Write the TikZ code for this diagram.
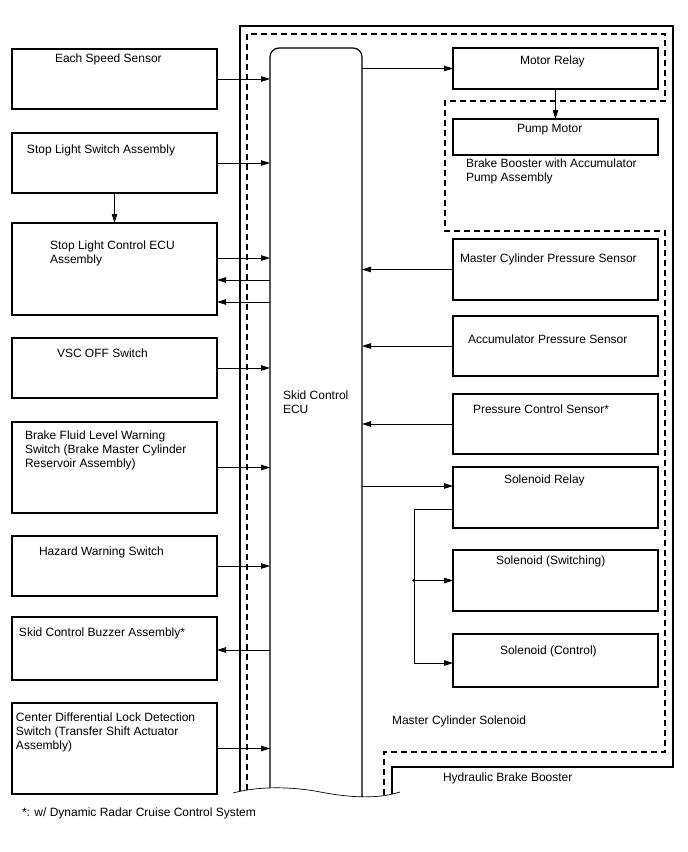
\documentclass[tikz,border=0pt]{standalone}
\usepackage{fontspec}
\setmainfont{Liberation Sans}
\usetikzlibrary{arrows.meta}
\begin{document}
\begin{tikzpicture}[x=1pt,y=-1pt,
  box/.style={draw, line width=1.2pt, anchor=north west, inner sep=0pt, outer sep=0pt, minimum width=205pt},
  lbl/.style={anchor=north west, inner sep=0pt, outer sep=0pt, font=\fontsize{12}{14}\selectfont, align=left},
  arr/.style={line width=0.8pt, -{Triangle[length=9pt,width=5.5pt]}},
  ln/.style={line width=0.8pt},
  dsh/.style={line width=1.2pt, dash pattern=on 6pt off 4pt},
  solidedge/.style={line width=1.2pt}]
\useasboundingbox (0,0) rectangle (688,852);

% ---------- outlines ----------
\draw[solidedge] (240,791) -- (240,26) -- (673,26) -- (673,767) -- (392,767) -- (392,794);
\draw[dsh] (247,790) -- (247,34) -- (665,34) -- (665,101) -- (445,101) -- (445,231) -- (665,231) -- (665,752) -- (384,752) -- (384,795.5);

% ---------- ECU ----------
\node[anchor=north west, inner sep=0pt, outer sep=0pt, minimum width=92pt, minimum height=749pt] (ecu) at (270,48) {};
\draw[solidedge, rounded corners=9pt] (270,788) -- (270,48) -- (362,48) -- (362,797);
\draw[line width=0.7pt] (233,793) .. controls (255,787) and (285,786) .. (315,791) .. controls (345,797) and (375,800) .. (400,792);
\node[lbl] (ecut) at (283,390.5) {Skid Control\\ECU};

% ---------- left boxes ----------
\node[box, minimum height=60pt] (ess) at (12,49) {};
\node[box, minimum height=60pt] (sls) at (12,133) {};
\node[box, minimum height=92pt] (slc) at (12,223) {};
\node[box, minimum height=60pt] (vsc) at (12,338) {};
\node[box, minimum height=91pt] (bfl) at (12,422) {};
\node[box, minimum height=60pt] (hws) at (12,536) {};
\node[box, minimum height=63pt] (scb) at (12,617) {};
\node[box, minimum height=91pt] (cdl) at (12,703) {};

\node[lbl] (esst) at (55,53.5) {Each Speed Sensor};
\node[lbl] (slst) at (27,144.5) {Stop Light Switch Assembly};
\node[lbl] (slct) at (50,240.5) {Stop Light Control ECU\\Assembly};
\node[lbl] (vsct) at (57,348.5) {VSC OFF Switch};
\node[lbl] (bflt) at (25,430.5) {Brake Fluid Level Warning\\Switch (Brake Master Cylinder\\Reservoir Assembly)};
\node[lbl] (hwst) at (39,546.5) {Hazard Warning Switch};
\node[lbl] (scbt) at (19,627.5) {Skid Control Buzzer Assembly*};
\node[lbl] (cdlt) at (16,712.5) {Center Differential Lock Detection\\Switch (Transfer Shift Actuator\\Assembly)};
\node[lbl] (foot) at (22,807.5) {*: w/ Dynamic Radar Cruise Control System};

% ---------- right boxes ----------
\node[box, minimum height=41pt] (mr) at (453,48) {};
\node[box, minimum height=36pt] (pm) at (453,119) {};
\node[box, minimum height=61pt] (mcps) at (453,239) {};
\node[box, minimum height=60pt] (aps) at (453,316) {};
\node[box, minimum height=60pt] (pcs) at (453,394) {};
\node[box, minimum height=61pt] (sr) at (453,467) {};
\node[box, minimum height=61pt] (ssw) at (453,550) {};
\node[box, minimum height=53pt] (sctl) at (453,634) {};

\node[lbl] (mrt) at (520,55.5) {Motor Relay};
\node[lbl] (pmt) at (517,124.5) {Pump Motor};
\node[lbl] (bbt) at (466,158.5) {Brake Booster with Accumulator\\Pump Assembly};
\node[lbl] (mcpst) at (460,253.5) {Master Cylinder Pressure Sensor};
\node[lbl] (apst) at (468,334.5) {Accumulator Pressure Sensor};
\node[lbl] (pcst) at (473,404.5) {Pressure Control Sensor*};
\node[lbl] (srt) at (504,474.5) {Solenoid Relay};
\node[lbl] (sswt) at (496,555.5) {Solenoid (Switching)};
\node[lbl] (sctlt) at (500,645.5) {Solenoid (Control)};
\node[lbl] (mcst) at (392,715.5) {Master Cylinder Solenoid};
\node[lbl] (hbbt) at (443,772.5) {Hydraulic Brake Booster};

% ---------- connectors left ----------
\draw[arr] (ess.east) -- (ess.east -| ecu.west);
\draw[arr] (sls.east) -- (sls.east -| ecu.west);
\draw[arr] (sls.south) -- (slc.north);
\draw[arr] ([yshift=11pt]slc.east) -- ([yshift=11pt]slc.east -| ecu.west);
\draw[arr] ([yshift=-11pt]slc.east -| ecu.west) -- ([yshift=-11pt]slc.east);
\draw[arr] ([yshift=-33pt]slc.east -| ecu.west) -- ([yshift=-33pt]slc.east);
\draw[arr] (vsc.east) -- (vsc.east -| ecu.west);
\draw[arr] (bfl.east) -- (bfl.east -| ecu.west);
\draw[arr] (hws.east) -- (hws.east -| ecu.west);
\draw[arr] ([yshift=-1.5pt]scb.east -| ecu.west) -- ([yshift=-1.5pt]scb.east);
\draw[arr] (cdl.east) -- (cdl.east -| ecu.west);

% ---------- connectors right ----------
\draw[arr] (mr.west -| ecu.east) -- (mr.west);
\draw[arr] (mr.south) -- (pm.north);
\draw[arr] (mcps.west) -- (mcps.west -| ecu.east);
\draw[arr] (aps.west) -- (aps.west -| ecu.east);
\draw[arr] (pcs.west) -- (pcs.west -| ecu.east);
\draw[arr] ([yshift=11.5pt]sr.west -| ecu.east) -- ([yshift=11.5pt]sr.west);
\coordinate (bx) at (414,0);
\draw[arr] ([yshift=-11.5pt]sr.west) -| ([yshift=-2.5pt]bx |- sctl.west) -- ([yshift=-2.5pt]sctl.west);
\draw[arr] (bx |- ssw.west) -- (ssw.west);
\fill (bx |- ssw.west) circle (1.6pt);
\end{tikzpicture}
\end{document}
